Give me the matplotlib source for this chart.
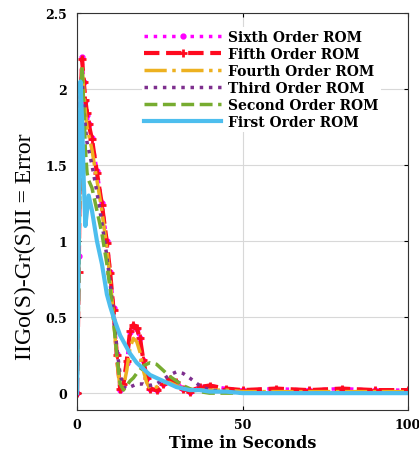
import numpy as np
import matplotlib
matplotlib.use('Agg')
import matplotlib.pyplot as plt

plt.rcParams['font.family'] = ['DejaVu Serif']
plt.rcParams['font.weight'] = 'bold'

# time samples (s)
t = [0, 0.5, 1, 1.5, 2, 2.5, 3, 3.5, 4.5, 6, 7.5, 9, 10, 11, 12, 13, 14, 15, 16, 17,
     18, 19, 20, 21, 22, 24, 26, 28, 30, 32, 34, 37, 40, 45, 50, 60, 70, 80, 90, 100]

# error of each reduced order model
sixth = [0, 0.9, 1.9, 2.21, 2.05, 1.92, 1.83, 1.77, 1.68, 1.46, 1.25, 1.0, 0.8, 0.56, 0.26, 0.02,
         0.05, 0.2, 0.4, 0.44, 0.42, 0.36, 0.22, 0.1, 0.03, 0.02, 0.06, 0.09, 0.07, 0.03,
         0.01, 0.04, 0.05, 0.03, 0.02, 0.03, 0.02, 0.03, 0.02, 0.02]
fifth = [0, 0.8, 1.85, 2.2, 2.05, 1.93, 1.84, 1.77, 1.67, 1.45, 1.24, 0.99, 0.79, 0.55, 0.25, 0.03,
         0.06, 0.21, 0.41, 0.45, 0.43, 0.36, 0.22, 0.1, 0.03, 0.02, 0.06, 0.09, 0.07, 0.03,
         0.01, 0.04, 0.05, 0.03, 0.02, 0.03, 0.02, 0.03, 0.02, 0.02]
fourth = [0, 0.8, 1.9, 2.15, 2.0, 1.85, 1.75, 1.7, 1.6, 1.4, 1.2, 0.95, 0.75, 0.5, 0.22, 0.03,
          0.04, 0.15, 0.3, 0.36, 0.34, 0.27, 0.15, 0.07, 0.03, 0.04, 0.07, 0.07, 0.05, 0.03,
          0.02, 0.02, 0.02, 0.02, 0.01, 0.01, 0.01, 0.01, 0.01, 0.01]
third = [0, 0.9, 2.0, 2.1, 1.9, 1.75, 1.65, 1.6, 1.5, 1.32, 1.12, 0.9, 0.72, 0.52, 0.3, 0.12,
         0.04, 0.03, 0.04, 0.05, 0.06, 0.06, 0.06, 0.05, 0.05, 0.06, 0.09, 0.12, 0.14, 0.13,
         0.1, 0.05, 0.02, 0.01, 0.0, 0.0, 0.0, 0.0, 0.0, 0.0]
second = [0, 0.7, 1.8, 2.15, 1.9, 1.6, 1.45, 1.4, 1.35, 1.2, 1.05, 0.85, 0.68, 0.48, 0.25, 0.06,
          0.02, 0.05, 0.08, 0.1, 0.13, 0.15, 0.18, 0.19, 0.2, 0.19, 0.15, 0.11, 0.08, 0.05,
          0.03, 0.01, 0.0, 0.0, 0.0, 0.0, 0.0, 0.0, 0.0, 0.0]
first = [0, 1.0, 2.05, 1.8, 1.4, 1.1, 1.2, 1.3, 1.2, 1.0, 0.85, 0.65, 0.57, 0.5, 0.44, 0.38,
         0.34, 0.3, 0.26, 0.23, 0.2, 0.18, 0.16, 0.14, 0.12, 0.1, 0.08, 0.06, 0.04, 0.03,
         0.02, 0.02, 0.01, 0.01, 0.0, 0.0, 0.0, 0.0, 0.0, 0.0]

fig = plt.figure(figsize=(4.19, 4.56), dpi=100)
ax = fig.add_subplot(111)
fig.subplots_adjust(left=0.184, right=0.974, top=0.969, bottom=0.099)

ax.plot(t, sixth, ':', color='#ff00ff', lw=2.5, marker='.', ms=7, label='Sixth Order ROM')
ax.plot(t, fifth, '--', color='#ff0a1e', lw=3, marker='+', ms=6, mew=2, label='Fifth Order ROM')
ax.plot(t, fourth, '-.', color='#edb120', lw=2.5, label='Fourth Order ROM')
ax.plot(t, third, ':', color='#7e2f8e', lw=2.5, label='Third Order ROM')
ax.plot(t, second, '--', color='#77ac30', lw=2.5, label='Second Order ROM')
ax.plot(t, first, '-', color='#4dbeee', lw=3, label='First Order ROM')

ax.set_xlim(0, 100)
ax.set_ylim(-0.11, 2.5)
ax.set_xticks([0, 50, 100])
ax.set_yticks([0, 0.5, 1, 1.5, 2, 2.5])
ax.set_yticklabels(['0', '0.5', '1', '1.5', '2', '2.5'])
ax.tick_params(direction='in', top=True, right=True, labelsize=9, length=3)
ax.tick_params(axis='y', pad=7)
ax.tick_params(axis='x', pad=6)
ax.grid(True, color='#d8d8d8', lw=0.8)
for s in ax.spines.values():
    s.set_color('#333333')

ax.set_xlabel('Time in Seconds', fontsize=11.5, fontweight='bold', labelpad=2)
ax.set_ylabel('IIGo(S)-Gr(S)II = Error', fontsize=17, fontweight='normal',
              family='Liberation Serif')
ax.yaxis.set_label_coords(-0.125, 0.413)

leg = ax.legend(loc='upper right', bbox_to_anchor=(0.918, 0.965), borderaxespad=0,
                handlelength=5.5, numpoints=1, labelspacing=0.22, fontsize=10,
                frameon=True, edgecolor='none', framealpha=1, borderpad=0.2,
                handletextpad=0.5)

fig.savefig('out.png', dpi=100)
